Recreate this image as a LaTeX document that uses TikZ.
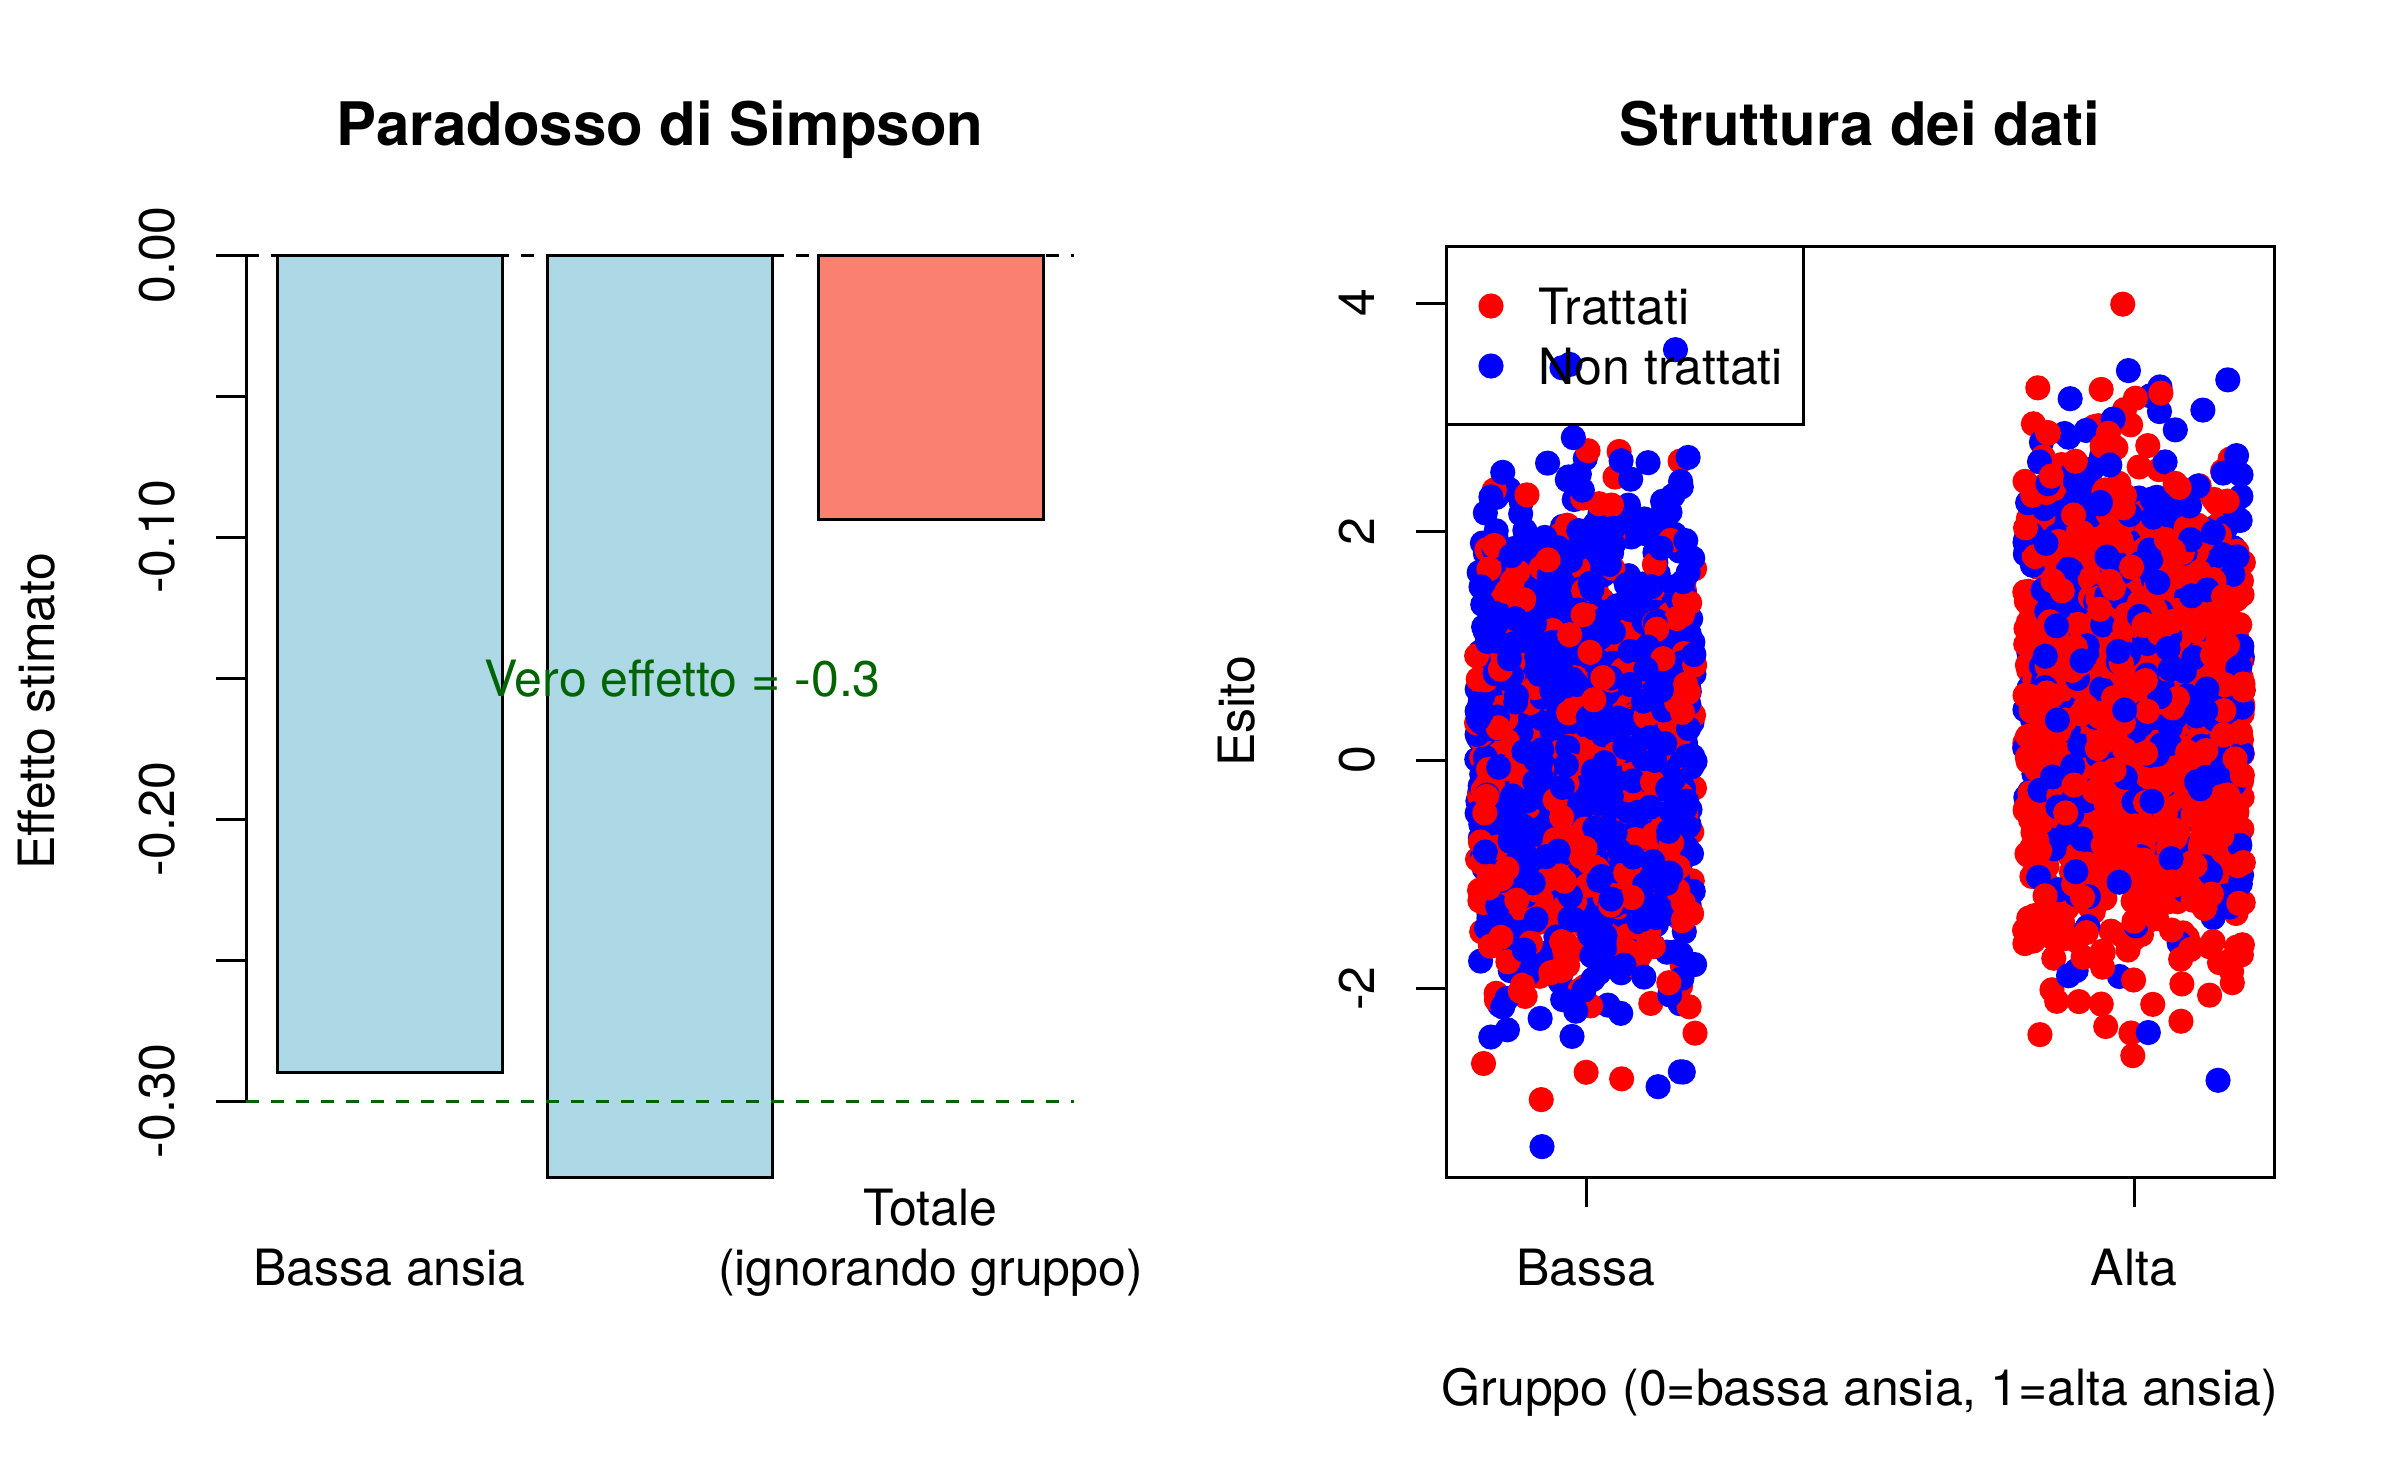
\documentclass[tikz,border=0pt]{standalone}
\usepackage{fontspec}
\setmainfont{TeX Gyre Heros}
\definecolor{lblue}{HTML}{ADD8E6}
\definecolor{salmonc}{HTML}{FA8072}
\definecolor{dgreen}{HTML}{006400}
\definecolor{rred}{HTML}{FF0000}
\definecolor{rblue}{HTML}{0000FF}
\begin{document}
\begin{tikzpicture}[x=0.24bp,y=-0.24bp,line width=0.72bp,
  txt/.style={inner sep=0pt,font=\fontsize{12bp}{14bp}\selectfont},
  ttl/.style={inner sep=0pt,font=\fontsize{14.4bp}{17bp}\selectfont\bfseries},
  barbox/.style={draw=black,line width=0.72bp},
  rdash/.style={dash pattern=on 3bp off 3bp,line width=0.72bp},
  pt/.style={radius=12.6}]
\fill[white] (0,0) rectangle (2400,1483);
\useasboundingbox (0,0) rectangle (2400,1483);

% ================= LEFT PANEL =================
\node[ttl,anchor=base] (t1) at (660,145) {Paradosso di Simpson};
% bars
\filldraw[fill=lblue,barbox] (277,255) rectangle (502,1072);
\filldraw[fill=lblue,barbox] (547,255) rectangle (772,1177);
\filldraw[fill=salmonc,barbox] (818,255) rectangle (1043,519);
% y axis
\draw (246,255) -- (246,1101);
\foreach \yy in {255,396,537,678,819,960,1101} \draw (216,\yy) -- (246,\yy);
\node[txt,rotate=90,anchor=base] (l0) at (174,255) {0.00};
\node[txt,rotate=90,anchor=base] (l1) at (174,537) {-0.10};
\node[txt,rotate=90,anchor=base] (l2) at (174,819) {-0.20};
\node[txt,rotate=90,anchor=base] (l3) at (174,1101) {-0.30};
\node[txt,rotate=90,anchor=base] (ylab1) at (54,711.5) {Effetto stimato};
% x labels
\node[txt,anchor=base] (xb1) at (389.5,1285) {Bassa ansia};
\node[txt,anchor=base] (xb3a) at (930.5,1225) {Totale};
\node[txt,anchor=base] (xb3b) at (930.5,1285) {(ignorando gruppo)};
% reference lines
\draw[rdash,black] (246,255) -- (1074,255);
\draw[rdash,dgreen] (246,1101) -- (1074,1101);
\node[txt,anchor=base,text=dgreen] (vero) at (682.5,696) {Vero effetto = -0.3};

% ================= RIGHT PANEL =================
\node[ttl,anchor=base] (t2) at (1860,145) {Struttura dei dati};
\begin{scope}
\clip (1446,246) rectangle (2274,1177);
\pgfmathsetseed{2024}
% group 0 (bassa)
\foreach \i in {1,...,1700}{
  \pgfmathsetmacro\px{1586+219.04*(rnd-0.5)}
  \pgfmathtruncatemacro\tr{rnd<0.32 ? 1 : 0}
  \pgfmathsetmacro\zz{1.05*sqrt(-2*ln(0.00002+0.99996*rnd))*cos(360*rnd)}
  \pgfmathsetmacro\py{760-114.25*(0.2-0.3*\tr+\zz)}
  \ifnum\tr=1 \fill[rred] (\px,\py) circle[pt];\else \fill[rblue] (\px,\py) circle[pt];\fi
}
% group 1 (alta)
\foreach \i in {1,...,1700}{
  \pgfmathsetmacro\px{2134+219.04*(rnd-0.5)}
  \pgfmathtruncatemacro\tr{rnd<0.70 ? 1 : 0}
  \pgfmathsetmacro\zz{1.05*sqrt(-2*ln(0.00002+0.99996*rnd))*cos(360*rnd)}
  \pgfmathsetmacro\py{760-114.25*(0.65-0.3*\tr+\zz)}
  \ifnum\tr=1 \fill[rred] (\px,\py) circle[pt];\else \fill[rblue] (\px,\py) circle[pt];\fi
}
\end{scope}
% box and axes
\draw (1446,246) rectangle (2274,1177);
\foreach \yy in {303,531.5,760,988.5} \draw (1416,\yy) -- (1446,\yy);
\node[txt,rotate=90,anchor=base] (r4) at (1374,303) {4};
\node[txt,rotate=90,anchor=base] (r2) at (1374,531.5) {2};
\node[txt,rotate=90,anchor=base] (r0) at (1374,760) {0};
\node[txt,rotate=90,anchor=base] (rm2) at (1374,988.5) {-2};
\node[txt,rotate=90,anchor=base] (ylab2) at (1254,711.5) {Esito};
\draw (1586,1177) -- (1586,1207);
\draw (2134,1177) -- (2134,1207);
\node[txt,anchor=base] (xbassa) at (1586,1285) {Bassa};
\node[txt,anchor=base] (xalta) at (2134,1285) {Alta};
\node[txt,anchor=base] (xlab2) at (1860,1405) {Gruppo (0=bassa ansia, 1=alta ansia)};
% legend
\draw (1446,246) rectangle (1803,424);
\fill[rred] (1491,306) circle[pt];
\fill[rblue] (1491,366) circle[pt];
\node[txt,anchor=base west] (lg1) at (1537,324) {Trattati};
\node[txt,anchor=base west] (lg2) at (1537,384) {Non trattati};
\end{tikzpicture}
\end{document}
